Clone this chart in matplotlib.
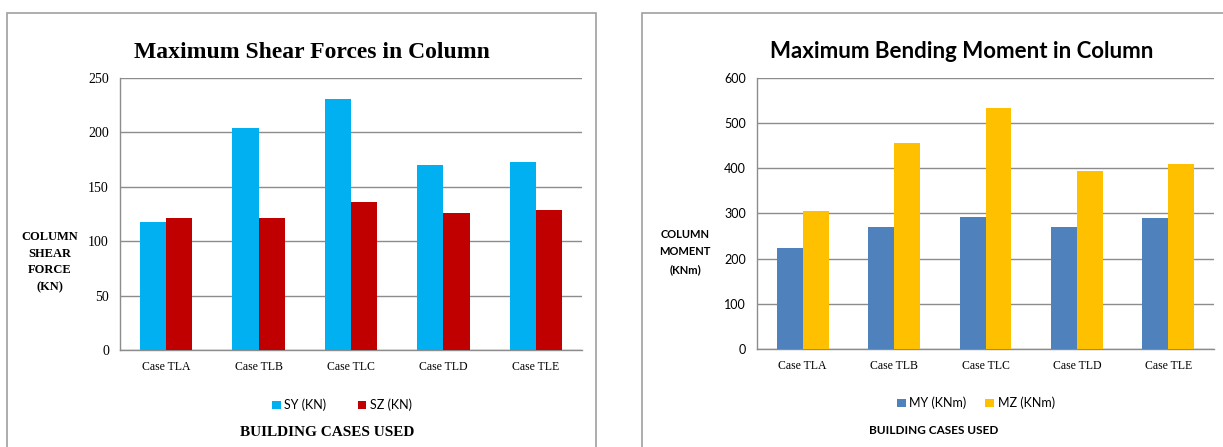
import matplotlib.pyplot as plt
from matplotlib.patches import Rectangle
import numpy as np

cases = ['Case TLA', 'Case TLB', 'Case TLC', 'Case TLD', 'Case TLE']
sy = [118, 204, 231, 170, 173]
sz = [121, 121, 136, 126, 129]
my = [223, 270, 292, 270, 290]
mz = [306, 455, 534, 395, 409]

W, H = 1223, 447
fig = plt.figure(figsize=(W / 100, H / 100), dpi=100)
fig.patch.set_facecolor('white')


def px(x0, y0, x1, y1):
    # converte pixels (origem em cima) para coordenadas da figura
    return [x0 / W, 1 - y1 / H, (x1 - x0) / W, (y1 - y0) / H]


# molduras dos dois gráficos
for x0, x1 in [(7, 596), (642, 1240)]:
    fig.patches.append(Rectangle((x0 / W, -0.1), (x1 - x0) / W, 1.1 - 13 / H,
                                 transform=fig.transFigure, fill=False,
                                 edgecolor='#a0a0a0', linewidth=1.2))

serif = 'Liberation Serif'
sans = 'Lato'


def bar_chart(ax, a, b, ca, cb, ymax, step, tick_font, tick_size):
    x = np.arange(len(cases))
    w = 0.283
    ax.bar(x - w / 2, a, w, color=ca, zorder=3)
    ax.bar(x + w / 2, b, w, color=cb, zorder=3)
    ax.set_xlim(-0.5, len(cases) - 0.5)
    ax.set_ylim(0, ymax)
    ax.set_yticks(np.arange(0, ymax + 1, step))
    ax.grid(axis='y', color='#8c8c8c', linewidth=1.0, zorder=0)
    for s in ['top', 'right']:
        ax.spines[s].set_visible(False)
    for s in ['left', 'bottom']:
        ax.spines[s].set_color('#8c8c8c')
        ax.spines[s].set_linewidth(1.0)
    ax.tick_params(length=0, pad=8)
    ax.set_xticks(x)
    ax.set_xticklabels(cases, fontfamily=serif, fontsize=8.5)
    for t in ax.get_yticklabels():
        t.set_fontfamily(tick_font)
        t.set_fontsize(tick_size)


# --- Gráfico da esquerda: esforço cortante ---
ax1 = fig.add_axes(px(120, 78, 582, 350))
bar_chart(ax1, sy, sz, '#00b0f0', '#c00000', 250, 50, serif, 10)
fig.text(312 / W, 1 - 52 / H, 'Maximum Shear Forces in Column', ha='center', va='center',
         fontfamily=serif, fontweight='bold', fontsize=17)
fig.text(50 / W, 1 - 262 / H, 'COLUMN\nSHEAR\nFORCE\n(KN)', ha='center', va='center',
         fontfamily=serif, fontweight='bold', fontsize=9, linespacing=1.55)
fig.text(327 / W, 1 - 433 / H, 'BUILDING CASES USED', ha='center', va='center',
         fontfamily=serif, fontweight='bold', fontsize=11)
ax1.legend(['SY (KN)', 'SZ (KN)'], loc='center', bbox_to_anchor=(342 / W, 1 - 405 / H),
           bbox_transform=fig.transFigure, ncol=2, frameon=False, handlelength=0.7,
           handleheight=0.7, columnspacing=2.5, handletextpad=0.3,
           prop={'family': sans, 'size': 9})

# --- Gráfico da direita: momento fletor ---
ax2 = fig.add_axes(px(757, 78, 1214, 349))
bar_chart(ax2, my, mz, '#4f81bd', '#ffc000', 600, 100, sans, 9)
fig.text(962 / W, 1 - 52 / H, 'Maximum Bending Moment in Column', ha='center', va='center',
         fontfamily=sans, fontweight='bold', fontsize=16)
fig.text(685 / W, 1 - 252 / H, 'COLUMN\nMOMENT\n(KNm)', ha='center', va='center',
         fontfamily=sans, fontweight='bold', fontsize=8, linespacing=1.75)
fig.text(934 / W, 1 - 431 / H, 'BUILDING CASES USED', ha='center', va='center',
         fontfamily=sans, fontweight='bold', fontsize=8.5)
ax2.legend(['MY (KNm)', 'MZ (KNm)'], loc='center', bbox_to_anchor=(976 / W, 1 - 403 / H),
           bbox_transform=fig.transFigure, ncol=2, frameon=False, handlelength=0.7,
           handleheight=0.7, columnspacing=1.5, handletextpad=0.3,
           prop={'family': sans, 'size': 9})

fig.savefig('out.png', dpi=100)
